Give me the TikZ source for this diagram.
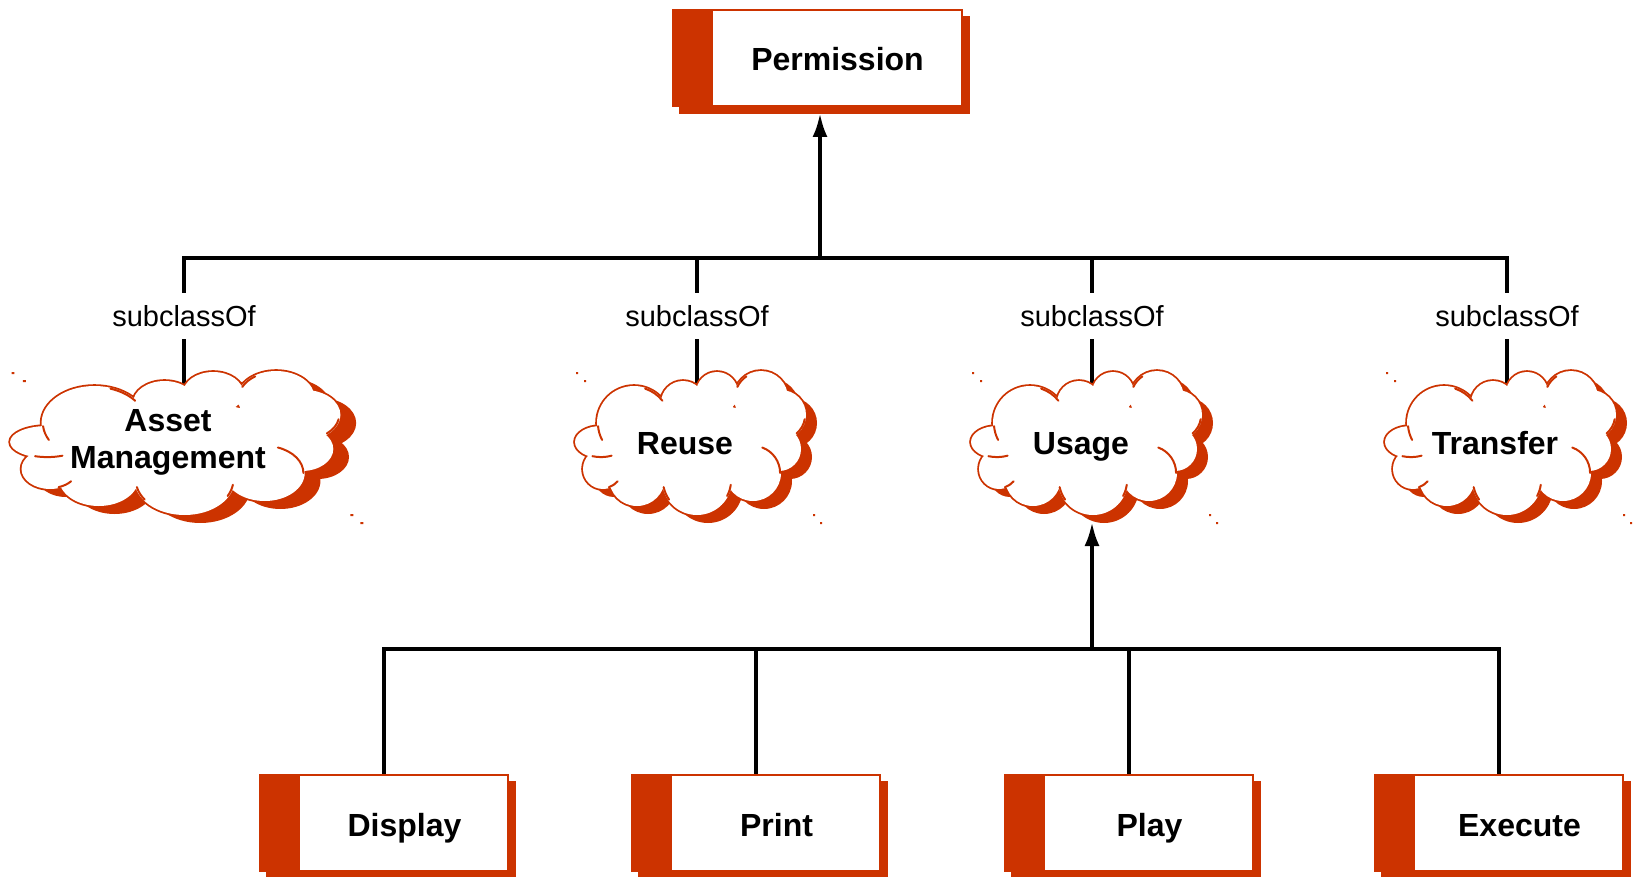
\documentclass[tikz,border=0pt]{standalone}
\usepackage{fontspec}
\setmainfont{Liberation Sans}
\usetikzlibrary{shadows,arrows.meta,backgrounds}
\definecolor{vred}{HTML}{CC3300}
\newcommand\cloudpuffs{(-90,-1) ellipse[x radius=26,y radius=16]
 (-88,26) circle[radius=20] (-57,-20) circle[radius=37] (-8,-40) circle[radius=22]
 (26,-50) circle[radius=21] (70,-45) circle[radius=27] (90,-28) circle[radius=25]
 (88,6) circle[radius=22] (62,30) circle[radius=28] (6,37) circle[radius=35]
 (-54,35) circle[radius=28] (0,0) ellipse[x radius=80,y radius=42]}
\newcommand\cloudcurls{
 (-57,-20) ++(-72:36.1) arc[start angle=-72,end angle=-38,radius=36.1]
 (-57,-20) ++(175:36.1) arc[start angle=175,end angle=152,radius=36.1]
 (70,-45) ++(205:26.1) arc[start angle=205,end angle=236,radius=26.1]
 (90,-28) ++(10:24.1) arc[start angle=10,end angle=50,radius=24.1]
 (62,30) ++(-70:27.1) arc[start angle=-70,end angle=0,radius=27.1]
 (6,37) ++(8:34.1) arc[start angle=8,end angle=28,radius=34.1]
 (6,37) ++(145:34.1) arc[start angle=145,end angle=168,radius=34.1]
 (-88,26) ++(72:19.1) arc[start angle=72,end angle=40,radius=19.1]
 (-90,-1) ++(110:25.1 and 15.1) arc[start angle=110,end angle=65,x radius=25.1,y radius=15.1]}
\begin{document}
\begin{tikzpicture}[x=1pt,y=-1pt,
 rbox/.style={rectangle, minimum width=250pt, minimum height=98pt, inner sep=0pt, fill=vred,
   font=\fontsize{32}{37}\selectfont\bfseries, text height=28pt, text depth=2pt,
   drop shadow={shadow xshift=7pt, shadow yshift=-7pt, fill=vred, opacity=1},
   path picture={\fill[white] ([xshift=41pt,yshift=-2pt]path picture bounding box.north west) rectangle ([xshift=-2pt,yshift=2pt]path picture bounding box.south east);}},
 ctext/.style={inner sep=0pt, align=center, font=\fontsize{32}{37}\selectfont\bfseries},
 lab/.style={font=\fontsize{29}{34}\selectfont, fill=white, inner xsep=2pt, inner ysep=12pt},
 ln/.style={line width=4pt, black},
 tip/.style={-{Latex[length=24pt,width=15pt]}},
 pics/cloudpic/.style={code={
   \fill[vred, shift={(11,8)}] \cloudpuffs;
   \draw[vred, line width=3.6pt] \cloudpuffs;
   \fill[white] \cloudpuffs;
   \draw[vred, line width=2pt, line cap=round] \cloudcurls;
   \fill[vred] (-115,-71) rectangle ++(2,2) (-107,-63) rectangle ++(2,2)
     (122,71) rectangle ++(2,2) (129,79) rectangle ++(2,2);
 }},
]
\useasboundingbox (0,0) rectangle (1636,877);

\node[rbox, minimum width=291pt] (perm) at (817,58) {\hspace*{41pt}Permission};

\pic[xscale=1.43] at (176,443) {cloudpic};
\pic at (691,443) {cloudpic};
\pic at (1087,443) {cloudpic};
\pic at (1501,443) {cloudpic};

\node[ctext] (asset) at (168,442) {Asset\\Management};
\node[ctext, text height=28pt, text depth=2pt] (reuse) at (685,441) {Reuse};
\node[ctext, text height=28pt, text depth=2pt] (usage) at (1081,441) {Usage};
\node[ctext, text height=28pt, text depth=2pt] (transfer) at (1495,441) {Transfer};

\node[lab] (l1) at (184,316) {subclassOf};
\node[lab] (l2) at (697,316) {subclassOf};
\node[lab] (l3) at (1092,316) {subclassOf};
\node[lab] (l4) at (1507,316) {subclassOf};

\node[rbox] (display) at (384,823) {\hspace*{41pt}Display};
\node[rbox] (print) at (756,823) {\hspace*{41pt}Print};
\node[rbox] (play) at (1129,823) {\hspace*{41pt}Play};
\node[rbox] (execute) at (1499,823) {\hspace*{41pt}Execute};

\coordinate (b1) at (184,258);
\coordinate (b2) at (697,258);
\coordinate (b3) at (1092,258);
\coordinate (b4) at (1507,258);
\coordinate (btop) at (820,258);
\coordinate (ptip) at (820,113);
\coordinate (d1) at (384,649);
\coordinate (d2) at (756,649);
\coordinate (d3) at (1129,649);
\coordinate (d4) at (1499,649);
\coordinate (ub) at (1092,649);
\coordinate (ubot) at (1092,522);

\begin{scope}[on background layer]
 \draw[ln] (b1 |- asset) -- (b1) -- (b4) -- (b4 |- transfer);
 \draw[ln] (b2) -- (b2 |- reuse);
 \draw[ln] (b3) -- (b3 |- usage);
 \draw[ln] (display.center) -- (d1) -- (d4) -- (execute.center);
 \draw[ln] (d2) -- (print.center);
 \draw[ln] (d3) -- (play.center);
\end{scope}

\draw[ln, tip] (btop) -- (ptip);
\draw[ln, tip] (ub) -- (ubot);
\end{tikzpicture}
\end{document}
